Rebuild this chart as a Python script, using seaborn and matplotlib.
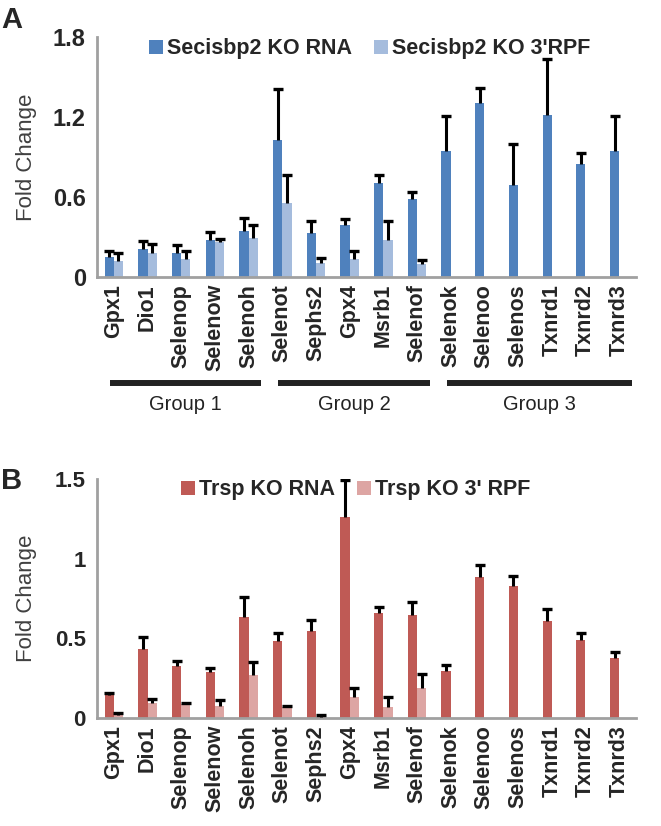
import numpy as np
import pandas as pd
import seaborn as sns
import matplotlib.pyplot as plt
import matplotlib.transforms as mtransforms
from matplotlib.patches import Patch

# genes on the x axis (same order in both panels)
genes = ["Gpx1", "Dio1", "Selenop", "Selenow", "Selenoh", "Selenot", "Sephs2", "Gpx4",
         "Msrb1", "Selenof", "Selenok", "Selenoo", "Selenos", "Txnrd1", "Txnrd2", "Txnrd3"]

# Panel A - Secisbp2 KO (fold change, upper error)
secis_labels = ["Secisbp2 KO RNA", "Secisbp2 KO 3'RPF"]
secis_rna = [0.152, 0.207, 0.178, 0.277, 0.347, 1.027, 0.332, 0.387,
             0.707, 0.582, 0.942, 1.302, 0.692, 1.217, 0.847, 0.942]
secis_rna_err = [0.045, 0.060, 0.060, 0.060, 0.095, 0.380, 0.090, 0.045,
                 0.060, 0.055, 0.265, 0.115, 0.305, 0.420, 0.080, 0.265]
secis_rpf = [0.122, 0.178, 0.137, 0.262, 0.292, 0.552, 0.107, 0.137,
             0.277, 0.097, 0, 0, 0, 0, 0, 0]
secis_rpf_err = [0.058, 0.069, 0.060, 0.020, 0.095, 0.215, 0.035, 0.060,
                 0.145, 0.030, 0, 0, 0, 0, 0, 0]

# Panel B - Trsp KO
trsp_labels = ["Trsp KO RNA", "Trsp KO 3' RPF"]
trsp_rna = [0.147, 0.433, 0.328, 0.286, 0.635, 0.484, 0.543, 1.261,
            0.656, 0.648, 0.294, 0.885, 0.831, 0.610, 0.492, 0.374]
trsp_rna_err = [0.009, 0.076, 0.030, 0.025, 0.122, 0.050, 0.071, 0.234,
                0.042, 0.079, 0.038, 0.075, 0.062, 0.076, 0.042, 0.042]
trsp_rpf = [0.017, 0.097, 0.088, 0.076, 0.269, 0.067, 0.008, 0.130,
            0.071, 0.189, 0, 0, 0, 0, 0, 0]
trsp_rpf_err = [0.013, 0.025, 0.009, 0.038, 0.080, 0.009, 0.009, 0.059,
                0.063, 0.084, 0, 0, 0, 0, 0, 0]

# gene groups shown under panel A
group_names = ["Group 1", "Group 2", "Group 3"]
group_sizes = [5, 5, 6]

sns.set_style("white")
plt.rcParams["font.family"] = ["Liberation Sans", "DejaVu Sans"]

AXIS_GRAY = "#A0A0A0"


def draw_panel(ax, rna, rna_err, rpf, rpf_err, labels, colors, ymax, yticks, yticklabels,
               leg_xy, ytick_size):
    df = pd.DataFrame({
        "gene": genes * 2,
        "fold": rna + rpf,
        "cond": [labels[0]] * len(genes) + [labels[1]] * len(genes),
    })
    sns.barplot(data=df, x="gene", y="fold", hue="cond", order=genes, hue_order=labels,
                palette=colors, width=0.55, saturation=1, errorbar=None, legend=False,
                linewidth=0, ax=ax)

    # upper-only error bars (cap only at the top)
    for cont, errs in zip(ax.containers, [rna_err, rpf_err]):
        for bar in cont:
            xc = bar.get_x() + bar.get_width() / 2
            e = errs[int(round(xc))]
            if e > 0:
                _, caps, _ = ax.errorbar(xc, bar.get_height(), yerr=[[0], [e]], fmt="none",
                                         ecolor="black", elinewidth=2.2, capsize=3.3,
                                         capthick=2.4, zorder=3)
                caps[0].set_visible(False)

    ax.set_xlim(-0.5, len(genes) - 0.5)
    ax.set_ylim(0, ymax)
    ax.set_yticks(yticks, yticklabels)
    ax.set_xlabel("")
    ax.set_ylabel("Fold Change", fontsize=16, color="#404040")
    ax.yaxis.set_label_coords(-0.112, 0.5)

    sns.despine(ax=ax)
    for s in ["left", "bottom"]:
        ax.spines[s].set_color(AXIS_GRAY)
        ax.spines[s].set_linewidth(2)

    ax.set_xticks(np.arange(len(genes) + 1) - 0.5, minor=True)
    ax.tick_params(axis="x", which="minor", length=5, width=2, color=AXIS_GRAY, direction="out")
    ax.tick_params(axis="x", which="major", length=0, pad=5, labelrotation=90, labelsize=15.5)
    ax.tick_params(axis="y", length=5, width=2, color=AXIS_GRAY, direction="out", pad=3,
                   labelsize=ytick_size)
    for t in ax.get_xticklabels() + ax.get_yticklabels():
        t.set_fontweight("bold")

    handles = [Patch(facecolor=c, edgecolor="none", label=l) for c, l in zip(colors, labels)]
    ax.legend(handles=handles, loc="center", bbox_to_anchor=leg_xy, ncol=2, frameon=False,
              prop={"weight": "bold", "size": 15.5}, handlelength=0.65, handleheight=0.65,
              handletextpad=0.2, columnspacing=1.0, borderaxespad=0)


fig = plt.figure(figsize=(6.61, 8.26), dpi=100)
ax_a = fig.add_axes([0.1467, 0.6647, 0.8155, 0.2906])
ax_b = fig.add_axes([0.1467, 0.1308, 0.8155, 0.2893])

draw_panel(ax_a, secis_rna, secis_rna_err, secis_rpf, secis_rpf_err, secis_labels,
           ["#4F81BD", "#A5BCDD"], 1.8, [0, 0.6, 1.2, 1.8], ["0", "0.6", "1.2", "1.8"],
           (0.506, 0.95), 17)
draw_panel(ax_b, trsp_rna, trsp_rna_err, trsp_rpf, trsp_rpf_err, trsp_labels,
           ["#BF5A55", "#DDA5A3"], 1.5, [0, 0.5, 1, 1.5], ["0", "0.5", "1", "1.5"],
           (0.48, 0.954), 16)

# group bars under panel A
trans = mtransforms.blended_transform_factory(ax_a.transData, ax_a.transAxes)
start = 0
for name, size in zip(group_names, group_sizes):
    x0, x1 = start - 0.12, start + size - 1 + 0.38
    ax_a.plot([x0, x1], [-0.442, -0.442], transform=trans, color="#222222", lw=4.3,
              clip_on=False, solid_capstyle="butt")
    ax_a.text((x0 + x1) / 2, -0.533, name, transform=trans, ha="center", va="center",
              fontsize=14.5, color="#222222")
    start += size

fig.text(0.002, 1 - 6 / 826, "A", fontsize=21, fontweight="bold", va="top", ha="left")
fig.text(0.002, 1 - 467 / 826, "B", fontsize=21, fontweight="bold", va="top", ha="left")

fig.savefig("out.png", dpi=100)
